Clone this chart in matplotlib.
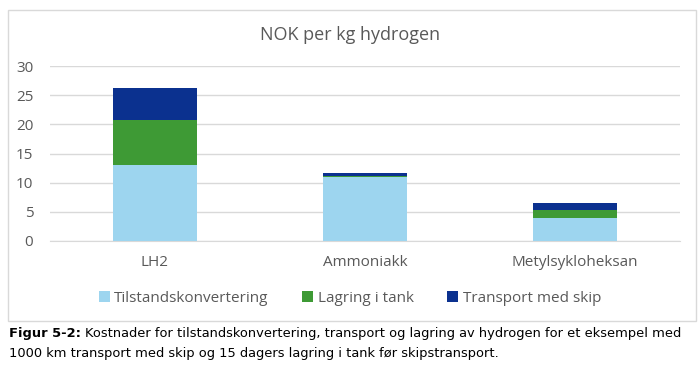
import matplotlib.pyplot as plt
from matplotlib.patches import Rectangle
import numpy as np

categories = ['LH2', 'Ammoniakk', 'Metylsykloheksan']
konvertering = [13.0, 10.9, 4.0]
lagring = [7.75, 0.25, 1.4]
transport = [5.45, 0.45, 1.05]
series_names = ['Tilstandskonvertering', 'Lagring i tank', 'Transport med skip']
colors = ['#9dd5ef', '#3e9a35', '#0b318f']

plt.rcParams['font.family'] = ['Open Sans', 'DejaVu Sans']

fig = plt.figure(figsize=(7, 3.66), dpi=100)

# chart frame
fig.patches.append(Rectangle((8 / 700, 1 - 321 / 366), 688 / 700, 311 / 366,
                             transform=fig.transFigure, fill=False,
                             edgecolor='#d9d9d9', linewidth=1))

ax = fig.add_axes([50 / 700, 1 - 241 / 366, 630 / 700, 175 / 366])
x = np.arange(len(categories))
w = 0.4
bottom = np.zeros(len(categories))
for vals, name, c in zip([konvertering, lagring, transport], series_names, colors):
    ax.bar(x, vals, w, bottom=bottom, color=c, label=name, zorder=3)
    bottom += np.array(vals)

ax.set_xlim(-0.5, 2.5)
ax.set_ylim(0, 30)
ax.set_yticks(np.arange(0, 31, 5))
ax.set_xticks(x)
ax.set_xticklabels(categories)
ax.grid(axis='y', color='#d9d9d9', linewidth=1, zorder=0)
for s in ax.spines.values():
    s.set_visible(False)
ax.spines['bottom'].set_visible(True)
ax.spines['bottom'].set_color('#d9d9d9')
ax.tick_params(length=0, labelsize=11, colors='#595959', pad=12)
ax.tick_params(axis='x', pad=10)

fig.text(0.5, 1 - 35 / 366, 'NOK per kg hydrogen', ha='center', va='center',
         fontsize=13, color='#595959')

leg = ax.legend(loc='center', bbox_to_anchor=(0.5, 1 - 298 / 366), bbox_transform=fig.transFigure,
                ncol=3, frameon=False, fontsize=11, handlelength=0.7, handleheight=0.7,
                handletextpad=0.3, columnspacing=2.2)
for t in leg.get_texts():
    t.set_color('#595959')

# caption: bold label followed by normal text
cap_y1 = 1 - 334 / 366
bold = fig.text(9 / 700, cap_y1, 'Figur 5-2:', fontsize=9.4, va='center',
                fontweight='bold', family='DejaVu Sans')
r = fig.canvas.get_renderer()
bb = bold.get_window_extent(renderer=r)
fig.text(bb.x1 / 700 + 4 / 700, cap_y1,
         'Kostnader for tilstandskonvertering, transport og lagring av hydrogen for et eksempel med',
         fontsize=9.4, va='center', family='DejaVu Sans')
fig.text(9 / 700, 1 - 353 / 366,
         '1000 km transport med skip og 15 dagers lagring i tank før skipstransport.',
         fontsize=9.4, va='center', family='DejaVu Sans')

fig.savefig('out.png', dpi=100)
